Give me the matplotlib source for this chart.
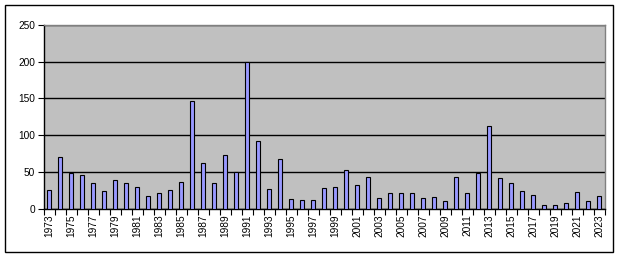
import matplotlib
matplotlib.use("Agg")
import matplotlib.pyplot as plt
from matplotlib.patches import Rectangle
import numpy as np

# yearly counts
years = list(range(1973, 2024))
values = [25, 70, 49, 46, 35, 24, 39, 35, 29, 17,
          21, 25, 36, 147, 62, 35, 73, 50, 199, 92,
          27, 68, 13, 12, 12, 28, 29, 53, 32, 43,
          14, 21, 21, 21, 14, 16, 10, 43, 21, 48,
          113, 42, 35, 24, 19, 5, 5, 8, 23, 10, 17]
y_ticks = [0, 50, 100, 150, 200, 250]

plt.rcParams['font.family'] = ['Liberation Sans', 'DejaVu Sans']

fig = plt.figure(figsize=(6.2, 2.58), dpi=100)

# outer chart border
fig.patches.append(Rectangle((5 / 620, 6 / 258), 608 / 620, 247 / 258,
                             transform=fig.transFigure, fill=False,
                             edgecolor='black', linewidth=1.0))

ax = fig.add_axes([43.5 / 620, 49.3 / 258, 561 / 620, 183.7 / 258])
ax.set_facecolor('#C0C0C0')

x = np.arange(len(years))
ax.bar(x, values, width=0.4, color='#9999FF', edgecolor='black',
       linewidth=0.8, zorder=3)

ax.set_xlim(-0.5, len(years) - 0.5)
ax.set_ylim(0, 250)
ax.set_yticks(y_ticks)
ax.set_yticklabels([str(v) for v in y_ticks], fontsize=7.3)
ax.yaxis.grid(True, color='black', linewidth=1.0, zorder=1)

# labels on every other year, tick marks at category boundaries
ax.set_xticks(x[::2])
ax.set_xticklabels([str(y) for y in years[::2]], rotation=90, fontsize=7.3)
ax.tick_params(axis='x', which='major', length=0, pad=4)
ax.set_xticks(np.arange(-0.5, len(years), 1.0), minor=True)
ax.tick_params(axis='x', which='minor', length=4, width=0.8, direction='out')
ax.tick_params(axis='y', length=4, width=0.8, direction='out', pad=2)

for s in ['top', 'right']:
    ax.spines[s].set_color('#808080')
    ax.spines[s].set_linewidth(1.0)
for s in ['left', 'bottom']:
    ax.spines[s].set_color('black')
    ax.spines[s].set_linewidth(1.0)
ax.set_axisbelow(True)

fig.savefig('out.png', dpi=100)
